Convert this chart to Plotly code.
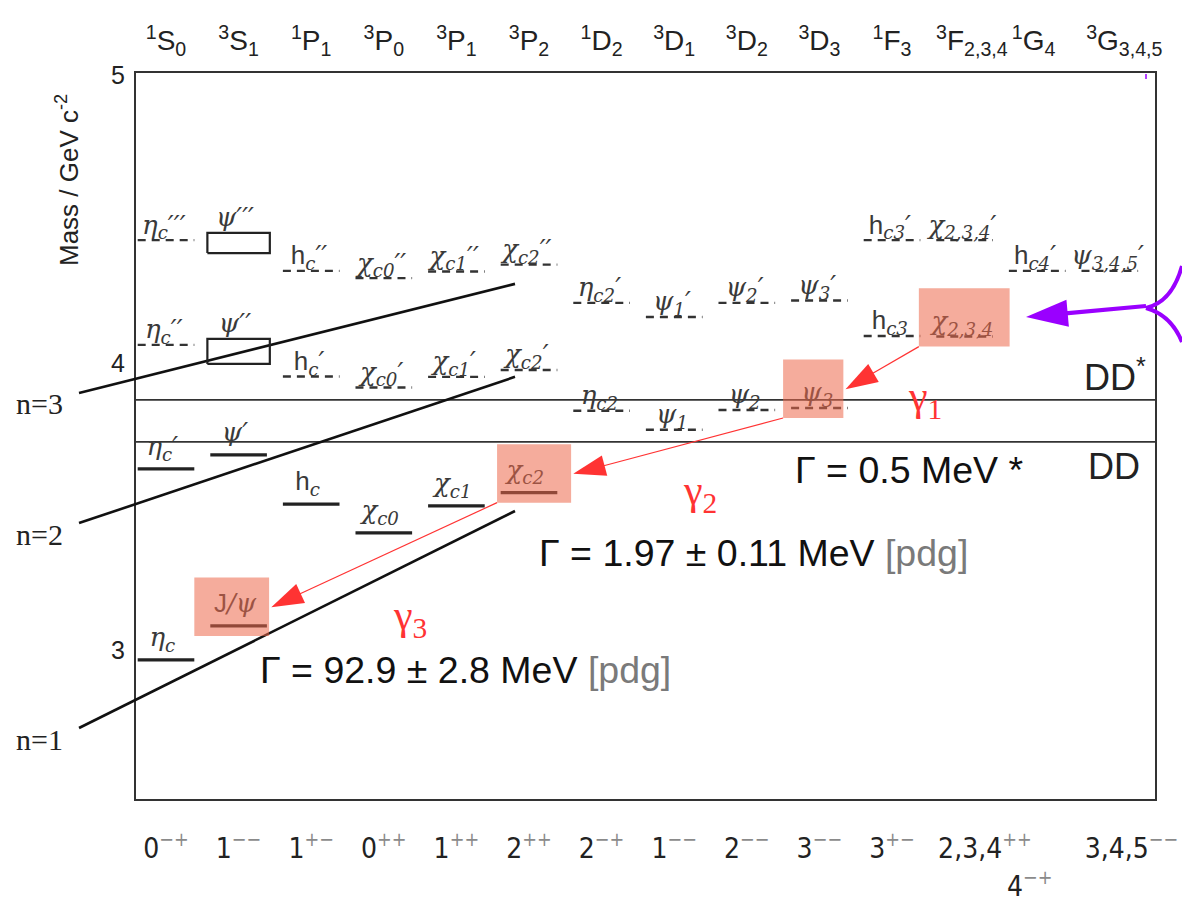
import plotly.graph_objects as go

# ---------------------------------------------------------------- data ----
# spectroscopic columns (top axis) and J^PC (bottom axis)
spectro_labels = ["<sup>1</sup>S<sub>0</sub>", "<sup>3</sup>S<sub>1</sub>", "<sup>1</sup>P<sub>1</sub>",
                  "<sup>3</sup>P<sub>0</sub>", "<sup>3</sup>P<sub>1</sub>", "<sup>3</sup>P<sub>2</sub>",
                  "<sup>1</sup>D<sub>2</sub>", "<sup>3</sup>D<sub>1</sub>", "<sup>3</sup>D<sub>2</sub>",
                  "<sup>3</sup>D<sub>3</sub>", "<sup>1</sup>F<sub>3</sub>", "<sup>3</sup>F<sub>2,3,4</sub>",
                  "<sup>1</sup>G<sub>4</sub>", "<sup>3</sup>G<sub>3,4,5</sub>"]
spectro_pos = [0, 1, 2, 3, 4, 5, 6, 7, 8, 9, 10, 11.1, 11.95, 13.2]

jpc_J = ["0", "1", "1", "0", "1", "2", "2", "1", "2", "3", "3", "2,3,4", "3,4,5"]
jpc_PC = ["−+", "−−", "+−", "++", "++", "++", "−+", "−−", "−−", "−−", "+−", "++", "−−"]
jpc_pos = [0, 1, 2, 3, 4, 5, 6, 7, 8, 9, 10, 11.28, 13.3]
jpc_extra_J, jpc_extra_PC, jpc_extra_pos = "4", "−+", 11.9

# observed states (solid levels): column, mass [GeV/c^2]
observed_labels = ["<i>η<sub>c</sub></i>",
                   "<span style='font-family:Liberation Sans'>J</span><i>/ψ</i>",
                   "<i>η<sub>c</sub>′</i>",
                   "<i>ψ′</i>",
                   "<span style='font-family:Liberation Sans'>h</span><sub><i>c</i></sub>",
                   "<i>χ<sub>c0</sub></i>",
                   "<i>χ<sub>c1</sub></i>",
                   "<i>χ<sub>c2</sub></i>"]
observed_col = [0, 1, 0, 1, 2, 3, 4, 5]
observed_mass = [2.958, 3.076, 3.621, 3.670, 3.499, 3.399, 3.493, 3.539]

# predicted states (dashed levels)
predicted_labels = ["<i>η<sub>c</sub>′′</i>", "<i>η<sub>c</sub>′′′</i>",
                    "<span style='font-family:Liberation Sans'>h</span><sub><i>c</i></sub><i>′</i>",
                    "<span style='font-family:Liberation Sans'>h</span><sub><i>c</i></sub><i>′′</i>",
                    "<i>χ<sub>c0</sub>′</i>", "<i>χ<sub>c0</sub>′′</i>",
                    "<i>χ<sub>c1</sub>′</i>", "<i>χ<sub>c1</sub>′′</i>",
                    "<i>χ<sub>c2</sub>′</i>", "<i>χ<sub>c2</sub>′′</i>",
                    "<i>η<sub>c2</sub></i>", "<i>η<sub>c2</sub>′</i>",
                    "<i>ψ<sub>1</sub></i>", "<i>ψ<sub>1</sub>′</i>",
                    "<i>ψ<sub>2</sub></i>", "<i>ψ<sub>2</sub>′</i>",
                    "<i>ψ<sub>3</sub></i>", "<i>ψ<sub>3</sub>′</i>",
                    "<span style='font-family:Liberation Sans'>h</span><sub><i>c3</i></sub>",
                    "<span style='font-family:Liberation Sans'>h</span><sub><i>c3</i></sub><i>′</i>",
                    "<i>χ<sub>2,3,4</sub></i>", "<i>χ<sub>2,3,4</sub>′</i>",
                    "<span style='font-family:Liberation Sans'>h</span><sub><i>c4</i></sub><i>′</i>",
                    "<i>ψ<sub>3,4,5</sub>′</i>"]
predicted_col = [0, 0, 2, 2, 3, 3, 4, 4, 5, 5, 6, 6, 7, 7, 8, 8, 9, 9, 10, 10, 11, 11, 12, 13]
predicted_mass = [4.052, 4.416, 3.942, 4.309, 3.904, 4.284, 3.941, 4.307, 3.965, 4.331,
                  3.823, 4.198, 3.757, 4.149, 3.826, 4.198, 3.833, 4.206, 4.083, 4.416,
                  4.081, 4.416, 4.309, 4.309]

# broad vector states drawn as mass bands
broad_labels = ["<i>ψ′′</i>", "<i>ψ′′′</i>"]
broad_col = [1, 1]
broad_low = [3.986, 4.371]
broad_high = [4.073, 4.441]

# open-charm thresholds
threshold_labels = ["DD<sup>*</sup>", "DD"]
threshold_mass = [3.861, 3.715]

# radial trajectories n = 1, 2, 3
regge_labels = ["n=1", "n=2", "n=3"]
regge_col_start = [-1.198, -1.198, -1.198]
regge_mass_start = [2.721, 3.433, 3.885]
regge_col_end = [4.807, 4.807, 4.807]
regge_mass_end = [3.475, 3.941, 4.264]

# radiative decay chain (highlighted states) and widths
chain_col = [11, 9, 5, 1]
chain_mass = [4.081, 3.833, 3.539, 3.076]
gamma_labels = ["γ<sub>1</sub>", "γ<sub>2</sub>", "γ<sub>3</sub>"]
width_texts = ["Γ = 0.5 MeV *",
               "Γ = 1.97 ± 0.11 MeV <span style='color:#7a7a7a'>[pdg]</span>",
               "Γ = 92.9 ± 2.8 MeV <span style='color:#7a7a7a'>[pdg]</span>"]

# ------------------------------------------------------------ geometry ----
W, H = 1182, 918
FX0, FX1, FY0, FY1 = 135, 1156, 72, 800          # frame in pixels
COL0_PX, COL_PX = 166.0, 72.6                       # column 0 centre, column pitch
M_TOP, M_BOT = 5.0, 2.471
PX_PER_GEV = (FY1 - FY0) / (M_TOP - M_BOT)


def px_col(px):
    return (px - COL0_PX) / COL_PX


def py_m(py):
    return M_TOP - (py - FY0) / PX_PER_GEV


x_range = [px_col(0), px_col(W)]
y_range = [py_m(H), py_m(0)]
frame_x = [px_col(FX0), px_col(FX1)]
HALF = 0.39

LABEL_FONT = dict(family="DejaVu Serif, Liberation Serif, serif", size=26, color="#3a3a3a")
INK = "#222222"
RED = "#ff3333"
PURPLE = "#9a00ff"

fig = go.Figure()


def segments(cols, masses):
    xs, ys = [], []
    for c, m in zip(cols, masses):
        xs += [c - HALF, c + HALF, None]
        ys += [m, m, None]
    return xs, ys


# thresholds
for m in threshold_mass:
    fig.add_trace(go.Scatter(x=frame_x, y=[m, m], mode="lines",
                             line=dict(color="#333333", width=1.6), hoverinfo="skip"))

# radial trajectories
for c0, m0, c1, m1 in zip(regge_col_start, regge_mass_start, regge_col_end, regge_mass_end):
    fig.add_trace(go.Scatter(x=[c0, c1], y=[m0, m1], mode="lines",
                             line=dict(color="#111111", width=2.6), hoverinfo="skip"))

# observed levels
xs, ys = segments(observed_col, observed_mass)
fig.add_trace(go.Scatter(x=xs, y=ys, mode="lines", line=dict(color=INK, width=3.2),
                         hoverinfo="skip"))
# predicted levels
xs, ys = segments(predicted_col, predicted_mass)
fig.add_trace(go.Scatter(x=xs, y=ys, mode="lines",
                         line=dict(color="#333333", width=2.4, dash="8px,6px"), hoverinfo="skip"))
# broad states
for c, lo, hi in zip(broad_col, broad_low, broad_high):
    fig.add_trace(go.Scatter(x=[c - 0.43, c + 0.43, c + 0.43, c - 0.43, c - 0.43],
                             y=[lo, lo, hi, hi, lo], mode="lines",
                             line=dict(color=INK, width=2.2), hoverinfo="skip"))

# state labels
fig.add_trace(go.Scatter(x=[c - 0.05 for c in observed_col], y=[m + 0.025 for m in observed_mass],
                         mode="text", text=observed_labels, textposition="top center",
                         textfont=LABEL_FONT, hoverinfo="skip"))
fig.add_trace(go.Scatter(x=[c - 0.03 for c in predicted_col], y=[m + 0.0 for m in predicted_mass],
                         mode="text", text=predicted_labels, textposition="top center",
                         textfont=LABEL_FONT, hoverinfo="skip"))
fig.add_trace(go.Scatter(x=[c - 0.05 for c in broad_col], y=[m + 0.0 for m in broad_high],
                         mode="text", text=broad_labels, textposition="top center",
                         textfont=LABEL_FONT, hoverinfo="skip"))

# highlight boxes around the decay chain
hl_left = [0.63, 0.50, 0.44, 0.61]
hl_right = [0.62, 0.33, 0.58, 0.42]
HL_DOWN, HL_UP = 0.035, 0.168
shapes = []
for c, m, l, r in zip(chain_col, chain_mass, hl_left, hl_right):
    shapes.append(dict(type="rect", xref="x", yref="y", x0=c - l, x1=c + r,
                       y0=m - HL_DOWN, y1=m + HL_UP, layer="above",
                       fillcolor="rgba(236,104,74,0.55)", line=dict(width=0)))

# radiative transitions (red arrows)
for i in range(3):
    sx = chain_col[i] - hl_left[i]
    sy = chain_mass[i] - HL_DOWN
    tx = chain_col[i + 1] + hl_right[i + 1] + 0.03
    ty = chain_mass[i + 1] + 0.065
    fig.add_trace(go.Scatter(x=[sx, tx], y=[sy, ty], mode="lines+markers",
                             line=dict(color=RED, width=1.2),
                             marker=dict(symbol="arrow", size=[0, 34], color=RED, opacity=1,
                                         angleref="previous", line=dict(width=0)),
                             hoverinfo="skip"))

# purple arrow coming from outside
fig.add_trace(go.Scatter(x=[px_col(1146), px_col(1026)], y=[py_m(306), py_m(317)],
                         mode="lines+markers", line=dict(color=PURPLE, width=4.2),
                         marker=dict(symbol="arrow", size=[0, 44], color=PURPLE, opacity=1,
                                     angleref="previous", line=dict(width=0)),
                         hoverinfo="skip", cliponaxis=False))

# dummy trace for the top axis
fig.add_trace(go.Scatter(x=[None], y=[None], xaxis="x2", yaxis="y", hoverinfo="skip"))

# frame
shapes.append(dict(type="rect", xref="x", yref="y", x0=frame_x[0], x1=frame_x[1],
                   y0=M_BOT, y1=M_TOP, line=dict(color="#333333", width=2), layer="below"))


def paper(px, py):
    return px / W, 1 - py / H


fx, fy = paper(1146, 308)
ux, uy = paper(1172, 302)
ex, ey = paper(1182, 266)
lx, ly = paper(1171, 315)
gx, gy = paper(1182, 342)
shapes.append(dict(type="path", xref="paper", yref="paper",
                   path=f"M {fx},{fy} Q {ux},{uy} {ex},{ey}",
                   line=dict(color=PURPLE, width=4)))
shapes.append(dict(type="path", xref="paper", yref="paper",
                   path=f"M {fx},{fy} Q {lx},{ly} {gx},{gy}",
                   line=dict(color=PURPLE, width=4)))
tx0, ty0 = paper(1146, 74)
tx1, ty1 = paper(1146, 79)
shapes.append(dict(type="line", xref="paper", yref="paper", x0=tx0, x1=tx1, y0=ty0, y1=ty1,
                   line=dict(color=PURPLE, width=1.5)))

# ---------------------------------------------------------- annotations --
ann = []
SANS = "Liberation Sans, Arial, sans-serif"
SERIF = "Liberation Serif, Times New Roman, serif"

ann.append(dict(text="Mass / GeV c<sup>-2</sup>", textangle=-90, xref="paper", yref="paper",
                x=68 / W, y=1 - 180 / H, xanchor="center", yanchor="middle", showarrow=False,
                font=dict(family=SANS, size=26, color="#222222")))

for lab, c0, m0 in zip(regge_labels, regge_col_start, regge_mass_start):
    ann.append(dict(text=lab, x=c0, y=m0, xref="x", yref="y", xanchor="right", yanchor="middle",
                    xshift=-14, yshift=-11, showarrow=False,
                    font=dict(family=SERIF, size=30, color="#222222")))

ann.append(dict(text=threshold_labels[0], x=frame_x[1], y=threshold_mass[0], xref="x", yref="y",
                xanchor="right", yanchor="bottom", xshift=-8, yshift=0, showarrow=False,
                font=dict(family=SANS, size=36, color="#222222")))
ann.append(dict(text=threshold_labels[1], x=frame_x[1], y=threshold_mass[1], xref="x", yref="y",
                xanchor="right", yanchor="top", xshift=-14, yshift=-2, showarrow=False,
                font=dict(family=SANS, size=36, color="#222222")))

gamma_pos = [(925, 399), (700, 493), (410, 618)]
for lab, (gxp, gyp) in zip(gamma_labels, gamma_pos):
    ann.append(dict(text=lab, x=px_col(gxp), y=py_m(gyp), xref="x", yref="y",
                    showarrow=False, font=dict(family=SERIF, size=42, color=RED)))

width_pos = [(793, 470), (537, 553), (258, 670)]
for t, (wx, wy) in zip(width_texts, width_pos):
    ann.append(dict(text=t, x=px_col(wx), y=py_m(wy), xref="x", yref="y", xanchor="left",
                    yanchor="middle", showarrow=False,
                    font=dict(family=SANS, size=37.5, color="#111111")))

JPC_FONT = dict(family="Liberation Sans Narrow, DejaVu Sans Condensed, Liberation Sans, sans-serif",
                size=28, color="#222222")
ann.append(dict(text=f"{jpc_extra_J}<sup><span style='color:#8a8a8a'>{jpc_extra_PC}</span></sup>",
                x=jpc_extra_pos, y=1 - 905 / H, xref="x", yref="paper", showarrow=False,
                font=JPC_FONT))

jpc_text = [f"{j}<sup><span style='color:#8a8a8a'>{pc}</span></sup>" for j, pc in zip(jpc_J, jpc_PC)]

fig.update_layout(
    width=W, height=H, margin=dict(l=0, r=0, t=0, b=0),
    paper_bgcolor="white", plot_bgcolor="white", showlegend=False, hovermode=False,
    shapes=shapes, annotations=ann,
    xaxis=dict(domain=[0, 1], range=x_range, showgrid=False, zeroline=False, showline=False,
               anchor="free", position=1 - FY1 / H, tickmode="array", tickvals=jpc_pos,
               ticktext=jpc_text, ticks="", ticklabelstandoff=29, tickfont=JPC_FONT,
               ticklabeloverflow="allow"),
    xaxis2=dict(domain=[0, 1], range=x_range, overlaying="x", side="top", anchor="free",
                position=1 - FY0 / H, showgrid=False, zeroline=False, showline=False,
                tickmode="array", tickvals=spectro_pos, ticktext=spectro_labels, ticks="",
                ticklabelstandoff=16, ticklabeloverflow="allow",
                tickfont=dict(family=SANS, size=28, color="#222222")),
    yaxis=dict(domain=[0, 1], range=y_range, showgrid=False, zeroline=False, showline=False,
               anchor="free", position=FX0 / W, tickmode="array", tickvals=[3, 4, 5],
               ticktext=["3", "4", "5"], ticks="", ticklabelstandoff=10, ticklabelshift=3,
               tickfont=dict(family=SANS, size=25, color="#222222")),
)

fig.write_html("out.html")
